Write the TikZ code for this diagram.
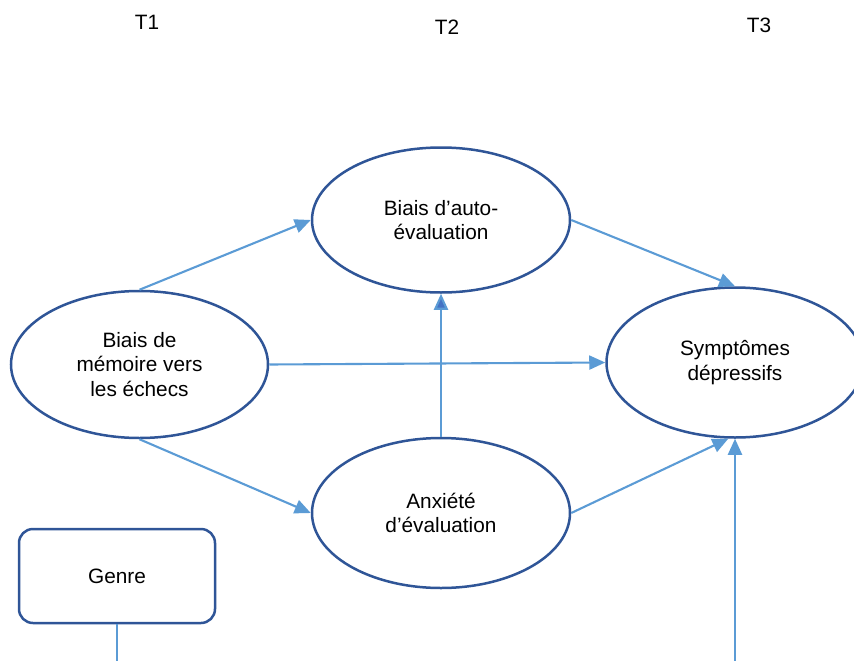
\documentclass[tikz,border=0pt]{standalone}
\usepackage{fontspec}
\setmainfont{Liberation Sans}
\usetikzlibrary{shapes.geometric,arrows.meta}
\definecolor{edgeblue}{HTML}{2F5597}
\definecolor{linkblue}{HTML}{5B9BD5}
\definecolor{tipblue}{HTML}{4472C4}
\tikzset{
  oval/.style={ellipse, draw=edgeblue, line width=2.5pt, fill=white, inner sep=0pt,
    align=center, font=\fontsize{20.8}{24.5}\selectfont},
  gbox/.style={draw=edgeblue, line width=2.5pt, rounded corners=14pt, inner sep=0pt,
    font=\fontsize{20.8}{24.5}\selectfont},
  link/.style={draw=linkblue, line width=2.1pt},
  arr/.style={link, -{Triangle[length=16pt,width=14pt,fill=linkblue]}},
  ttl/.style={font=\fontsize{20.8}{24}\selectfont},
}
\begin{document}
\begin{tikzpicture}[x=1pt,y=-1pt]
\useasboundingbox (0,0) rectangle (854,661);
\clip (0,0) rectangle (854,661);
\node[ttl] (t1) at (147,22) {T1};
\node[ttl] (t2) at (447,27) {T2};
\node[ttl] (t3) at (759,25) {T3};
\node[oval, minimum width=257pt, minimum height=147pt] (L) at (139.5,364.5) {Biais de\\mémoire vers\\les échecs};
\node[oval, minimum width=258pt, minimum height=145pt] (T) at (441,220) {Biais d’auto-\\évaluation};
\node[oval, minimum width=257pt, minimum height=150pt] (R) at (735,362.5) {Symptômes\\dépressifs};
\node[oval, minimum width=258pt, minimum height=150pt] (B) at (441,513) {Anxiété\\d’évaluation};
\node[gbox, minimum width=196pt, minimum height=94pt] (G) at (117,576) {Genre};
\coordinate (gend) at (117,661);
\coordinate (rbot) at (735,661);
\draw[arr] (L.north) -- (T.west);
\draw[arr] (L.east) -- (R.west);
\draw[arr] (L.south) -- (B.west);
\draw[link, -{Triangle[length=16pt,width=14pt,fill=tipblue]}] (B.north) -- (T.south);
\draw[arr] (T.east) -- (R.north);
\draw[arr] (B.east) -- (R.265);
\draw[arr] (rbot) -- (R.south);
\draw[link] (G.south) -- (gend);
\end{tikzpicture}
\end{document}
